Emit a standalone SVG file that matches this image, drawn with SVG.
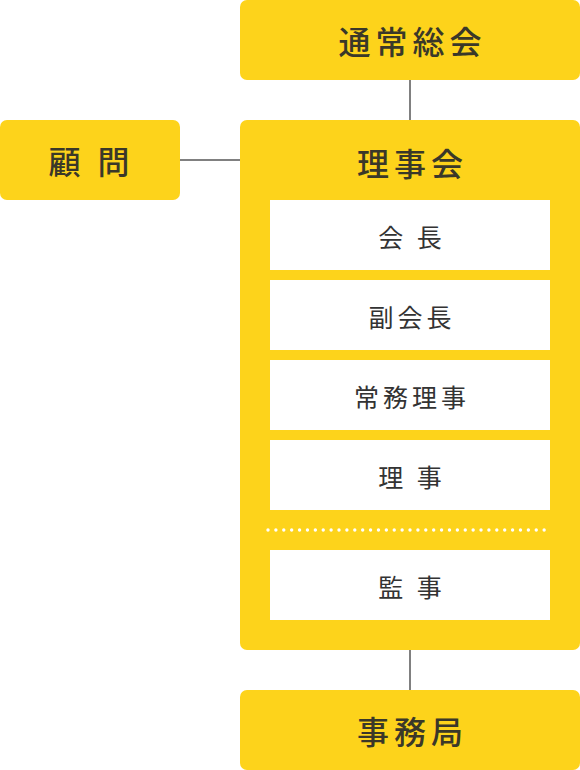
<svg xmlns="http://www.w3.org/2000/svg" width="580" height="770" viewBox="0 0 580 770">
<style>
.y{fill:#FDD31B}
.w{fill:#FFFFFF}
.t{font-family:"Noto Sans CJK JP","Noto Sans",sans-serif;font-size:32px;font-weight:500;fill:#3A3829;letter-spacing:5px;text-anchor:middle;dominant-baseline:central}
.s{font-family:"Noto Sans CJK JP","Noto Sans",sans-serif;font-size:25px;font-weight:400;fill:#333333;letter-spacing:4px;text-anchor:middle;dominant-baseline:central}
.c{stroke:#808080;stroke-width:2;fill:none}
</style>
<g id="connectors">
<line class="c" x1="410" y1="80" x2="410" y2="120"/>
<line class="c" x1="180" y1="160" x2="240" y2="160"/>
<line class="c" x1="410" y1="650" x2="410" y2="690"/>
</g>
<g id="general-meeting">
<rect class="y" x="240" y="0" width="340" height="80" rx="7"/>
<text class="t" x="412.5" y="40">通常総会</text>
</g>
<g id="advisor">
<rect class="y" x="0" y="120" width="180" height="80" rx="7"/>
<text class="t" x="91.5" y="160">顧 問</text>
</g>
<g id="board">
<rect class="y" x="240" y="120" width="340" height="530" rx="7"/>
<text class="t" x="412.5" y="162">理事会</text>
<line x1="268" y1="530" x2="552" y2="530" stroke="#FFFFFF" stroke-width="3.4" stroke-linecap="round" stroke-dasharray="0 7.89"/>
</g>
<g id="chair">
<rect class="w" x="270" y="200" width="280" height="70"/>
<text class="s" x="412" y="236">会 長</text>
</g>
<g id="vice-chair">
<rect class="w" x="270" y="280" width="280" height="70"/>
<text class="s" x="412" y="316">副会長</text>
</g>
<g id="executive-director">
<rect class="w" x="270" y="360" width="280" height="70"/>
<text class="s" x="412" y="396">常務理事</text>
</g>
<g id="director">
<rect class="w" x="270" y="440" width="280" height="70"/>
<text class="s" x="412" y="476">理 事</text>
</g>
<g id="auditor">
<rect class="w" x="270" y="550" width="280" height="70"/>
<text class="s" x="412" y="586">監 事</text>
</g>
<g id="secretariat">
<rect class="y" x="240" y="690" width="340" height="80" rx="7"/>
<text class="t" x="412.5" y="730">事務局</text>
</g>
</svg>
